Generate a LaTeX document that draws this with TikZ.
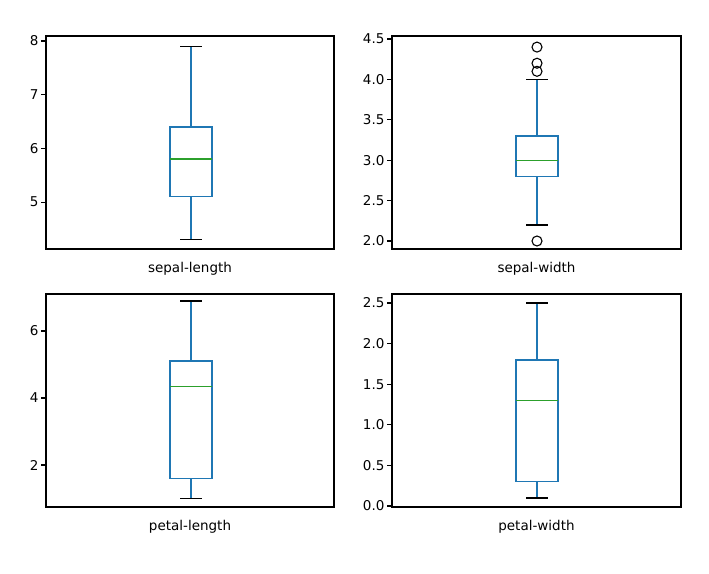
\documentclass[tikz,border=0pt]{standalone}
\usepackage{fontspec}
\setmainfont{DejaVu Sans}
\definecolor{cblue}{HTML}{1F77B4}
\definecolor{cgreen}{HTML}{2CA02C}
\newcommand\Y[1]{(\yo+(\vo-(#1))*\k)}
\newcommand\panel[9]{%
  \def\xa{#1}\def\xb{#2}\def\ya{#3}\def\yb{#4}\def\vo{#5}\def\yo{#6}\def\k{#7}%
  \pgfmathsetmacro\cx{(\xa+\xb)/2}%
  \draw[black,line width=1.1] (\xa,\ya) rectangle (\xb,\yb);
  \node[font=\fontsize{13.5}{15}\selectfont] at (\cx,\yb+20) {#9};
  \foreach \t in {#8} {\draw[line width=1.1] (\xa,{\Y{\t}}) -- ++(-5,0) node[left,inner sep=2pt,font=\fontsize{13.5}{15}\selectfont] {\t};}
}
\newcommand\bxplot[5]{%
  \draw[cblue,line width=1.4] ({#1-21},{\Y{#3}}) rectangle ({#1+21},{\Y{#5}});
  \draw[cgreen,line width=1.4] ({#1-21},{\Y{#4}}) -- ({#1+21},{\Y{#4}});
  \draw[cblue,line width=1.4] (#1,{\Y{#3}}) -- (#1,{\Y{#2}});
  \draw[cblue,line width=1.4] (#1,{\Y{#5}}) -- (#1,{\Y{\wh}});
  \draw[black,line width=1.4] ({#1-11},{\Y{#2}}) -- ({#1+11},{\Y{#2}});
  \draw[black,line width=1.4] ({#1-11},{\Y{\wh}}) -- ({#1+11},{\Y{\wh}});
}
\begin{document}
\begin{tikzpicture}[x=1pt,y=-1pt]
\useasboundingbox[fill=white] (0,0) rectangle (709,573);
\panel{46}{334}{36}{249}{8}{41}{53.7}{8,7,6,5}{sepal-length}
\def\wh{7.9}\bxplot{191}{4.3}{5.1}{5.8}{6.4}
\panel{392}{681}{36}{249}{4.5}{39}{80.8}{4.5,4.0,3.5,3.0,2.5,2.0}{sepal-width}
\def\wh{4.0}\bxplot{537}{2.2}{2.8}{3.0}{3.3}
\foreach \o in {4.4,4.2,4.1,2.0} \draw[black,line width=1.1] (537,{\Y{\o}}) circle (5);
\panel{46}{334}{294}{507}{6}{331}{33.5}{6,4,2}{petal-length}
\def\wh{6.9}\bxplot{191}{1.0}{1.6}{4.35}{5.1}
\panel{392}{681}{294}{507}{2.5}{303}{81.2}{2.5,2.0,1.5,1.0,0.5,0.0}{petal-width}
\def\wh{2.5}\bxplot{537}{0.1}{0.3}{1.3}{1.8}
\end{tikzpicture}
\end{document}
